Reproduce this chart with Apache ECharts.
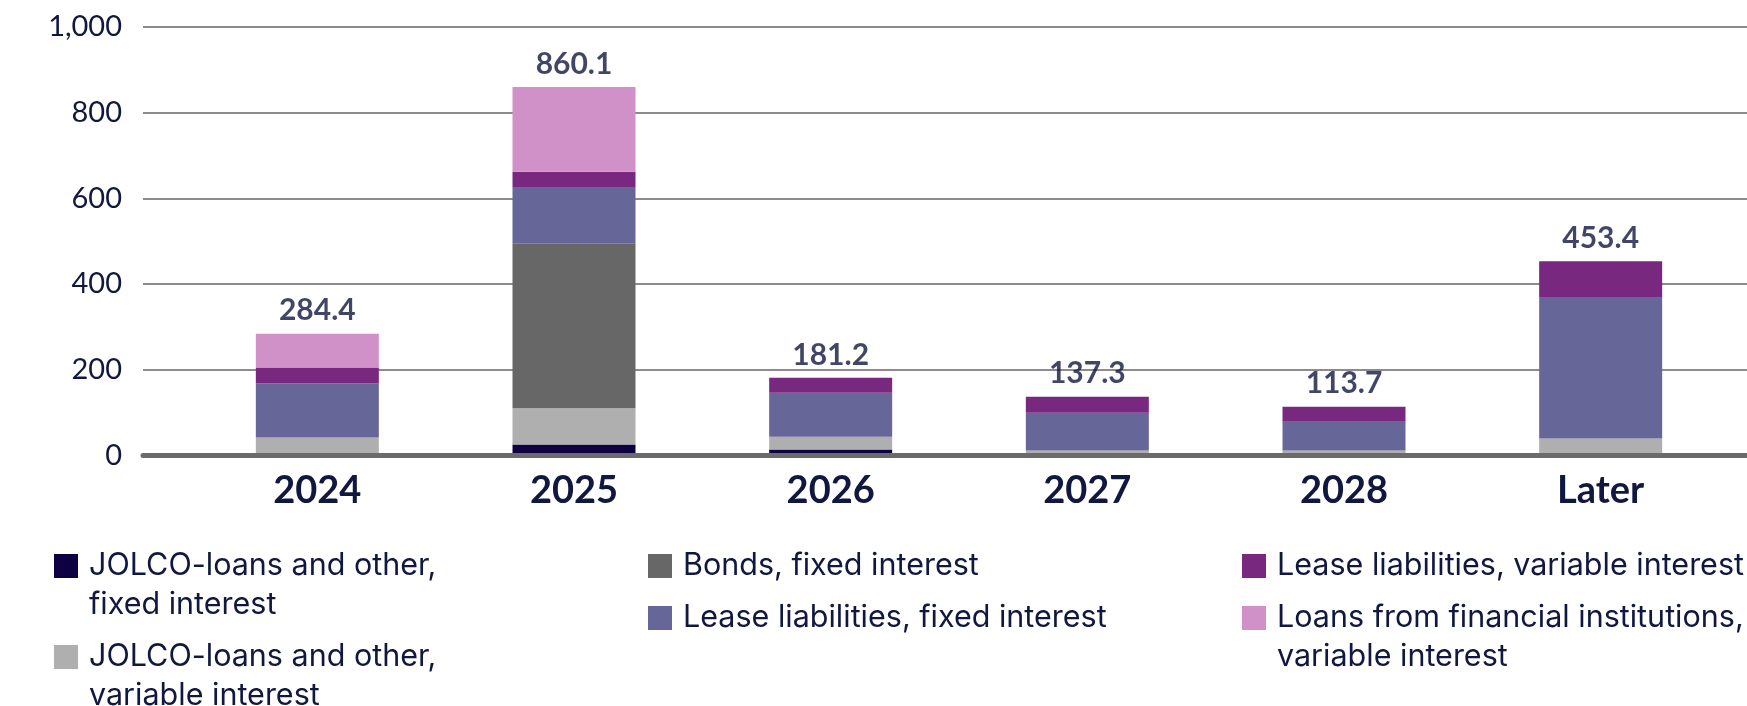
<!DOCTYPE html>
<html>
<head>
<meta charset="utf-8">
<script src="https://cdn.jsdelivr.net/npm/echarts@6/dist/echarts.min.js"></script>
<style>
  html, body { margin: 0; padding: 0; background: #ffffff; }
  #chart { width: 1747px; height: 706px; }
</style>
</head>
<body>
<div id="chart"></div>
<script>
// Maturity categories
const categories = ['2024', '2025', '2026', '2027', '2028', 'Later'];

// Stacked components (bottom to top)
const jolcoFixed    = [0, 25.6, 14, 0, 0, 0];
const jolcoVariable = [42, 84.6, 30, 11.5, 11.5, 39.6];
const bondsFixed    = [0, 384, 0, 0, 0, 0];
const leaseFixed    = [126, 130.5, 102.4, 88.5, 67.2, 330.3];
const leaseVariable = [37.3, 37.3, 34.8, 37.3, 35, 83.5];
const loansVariable = [79.1, 198.1, 0, 0, 0, 0];

// Value axis ticks
const yTicks = [0, 200, 400, 600, 800, 1000];

const NAVY = '#111840';
const FONT = 'Lato, "Noto Sans", sans-serif';
const LEGEND_FONT = 'Inter, "Open Sans", sans-serif';

const seriesDefs = [
  { name: 'JOLCO-loans and other, fixed interest', data: jolcoFixed, color: '#0e0142' },
  { name: 'JOLCO-loans and other, variable interest', data: jolcoVariable, color: '#afafaf' },
  { name: 'Bonds, fixed interest', data: bondsFixed, color: '#676767' },
  { name: 'Lease liabilities, fixed interest', data: leaseFixed, color: '#666698' },
  { name: 'Lease liabilities, variable interest', data: leaseVariable, color: '#78287f' },
  { name: 'Loans from financial institutions, variable interest', data: loansVariable, color: '#cf91c8' }
];

// Totals per category, taken from the stacked parts
const totals = categories.map((_, i) =>
  Math.round(seriesDefs.reduce((s, d) => s + d.data[i], 0) * 10) / 10
);

// Legend layout: [series index, icon left, first-line centre y, display text]
const LINE_H = 39;
const SQ = 24;      // square marker size
const BOX_W = 30;   // marker box incl. spacing before the text
const legendItems = [
  [0, 54, 566, 'JOLCO-loans and other,\nfixed interest'],
  [1, 54, 657, 'JOLCO-loans and other,\nvariable interest'],
  [2, 648, 566, 'Bonds, fixed interest'],
  [3, 648, 618, 'Lease liabilities, fixed interest'],
  [4, 1242, 566, 'Lease liabilities, variable interest'],
  [5, 1242, 618, 'Loans from financial institutions,\nvariable interest']
];

// Marker: a square at the top-left of the item box, so that it sits
// beside the first text line even when the label wraps to two lines.
function markerPath(h) {
  const w = BOX_W;
  return 'path://M0 0H' + SQ + 'V' + SQ + 'H0Z' +
    'M' + (w - 0.05) + ' ' + (h - 0.05) + 'H' + w + 'V' + h + 'H' + (w - 0.05) + 'Z';
}

const legends = legendItems.map(([idx, left, cy, text]) => {
  const lines = text.split('\n').length;
  const h = SQ + (lines - 1) * LINE_H;
  return {
    show: true,
    left: left,
    top: cy - LINE_H / 2,
    padding: 0,
    itemWidth: BOX_W,
    itemHeight: h,
    icon: markerPath(h),
    selectedMode: false,
    formatter: () => text,
    data: [seriesDefs[idx].name],
    textStyle: {
      fontFamily: LEGEND_FONT,
      fontSize: 30.5,
      color: NAVY,
      lineHeight: LINE_H
    }
  };
});

const option = {
  backgroundColor: '#ffffff',
  animation: false,
  legend: legends,
  grid: [
    // bars
    { left: 189, right: 18, top: 27, bottom: 250.5 },
    // value scale, gridlines and baseline spanning the full width
    { left: 143, right: 0, top: 27, bottom: 250.5 }
  ],
  xAxis: [
    {
      type: 'category',
      gridIndex: 0,
      data: categories,
      axisLine: { show: false },
      axisTick: { show: false },
      axisLabel: {
        margin: 16,
        fontFamily: FONT,
        fontSize: 38,
        fontWeight: 'bold',
        color: NAVY
      }
    },
    {
      type: 'value',
      gridIndex: 1,
      min: 0,
      max: 1,
      z: 5,
      axisLine: { show: true, onZero: false, lineStyle: { color: '#6b6b6b', width: 5 } },
      axisTick: { show: false },
      axisLabel: { show: false },
      splitLine: { show: false }
    }
  ],
  yAxis: [
    {
      type: 'value',
      gridIndex: 0,
      min: 0,
      max: 1000,
      interval: 200,
      axisLine: { show: false },
      axisTick: { show: false },
      axisLabel: { show: false },
      splitLine: { show: false }
    },
    {
      type: 'value',
      gridIndex: 1,
      min: yTicks[0],
      max: yTicks[yTicks.length - 1],
      interval: yTicks[1] - yTicks[0],
      axisLine: { show: false },
      axisTick: { show: false },
      axisLabel: {
        margin: 21,
        fontFamily: FONT,
        fontSize: 29,
        color: NAVY,
        formatter: (v) => v.toLocaleString('en-US')
      },
      splitLine: { show: true, lineStyle: { color: '#8c8c8c', width: 2 } }
    }
  ],
  series: seriesDefs.map((d) => ({
    name: d.name,
    type: 'bar',
    stack: 'total',
    xAxisIndex: 0,
    yAxisIndex: 0,
    barWidth: 123,
    data: d.data,
    itemStyle: { color: d.color },
    emphasis: { disabled: true }
  })).concat([{
    name: 'Total',
    type: 'scatter',
    xAxisIndex: 0,
    yAxisIndex: 0,
    symbolSize: 0,
    data: totals,
    label: {
      show: true,
      position: 'top',
      distance: 8,
      fontFamily: FONT,
      fontSize: 30,
      fontWeight: 'bold',
      color: NAVY,
      formatter: (p) => p.value.toFixed(1)
    },
    z: 10
  }])
};

const chart = echarts.init(document.getElementById('chart'), null, { renderer: 'canvas' });
chart.setOption(option);
</script>
</body>
</html>
